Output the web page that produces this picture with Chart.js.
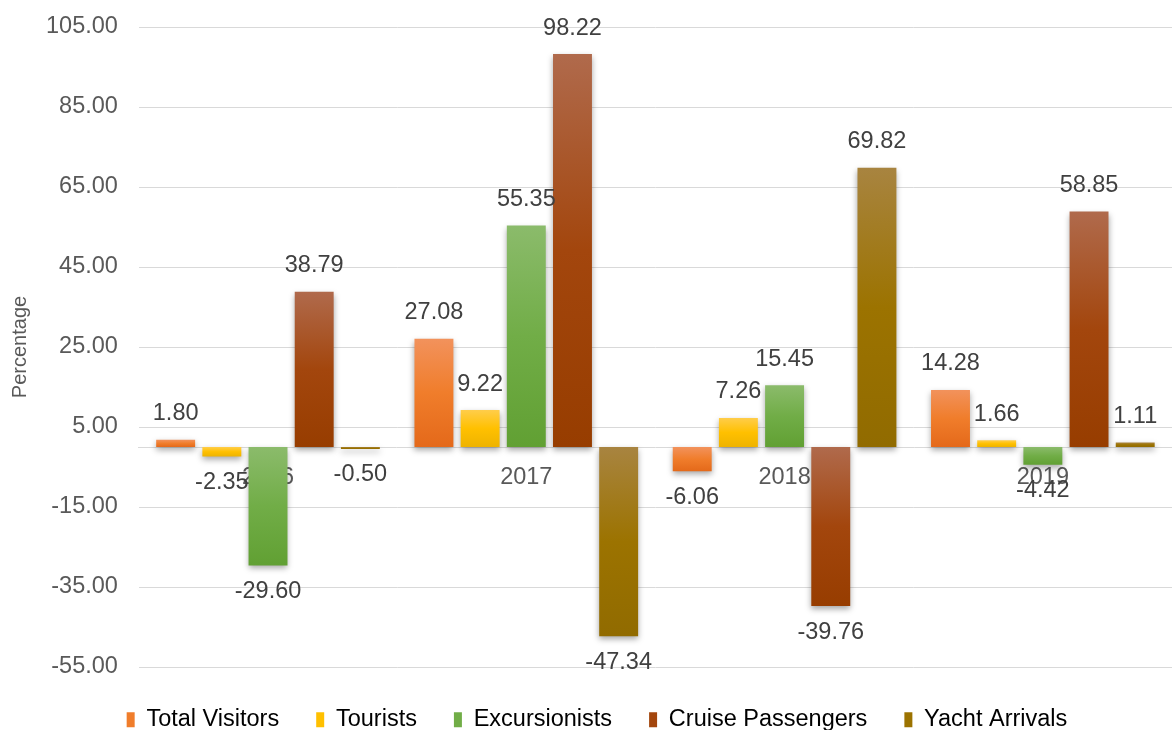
<!DOCTYPE html>
<html>
<head>
<meta charset="utf-8">
<script src="https://cdn.jsdelivr.net/npm/chart.js@4.4.0/dist/chart.umd.min.js"></script>
<style>
  html, body { margin: 0; padding: 0; background: #fff; }
  #wrap { width: 1172px; height: 730px; }
</style>
</head>
<body>
<div id="wrap"><canvas id="myBarChart"></canvas></div>
<script>
const years = ['2016', '2017', '2018', '2019'];
const seriesNames = ['Total Visitors', 'Tourists', 'Excursionists', 'Cruise Passengers', 'Yacht Arrivals'];

const totalVisitors = [1.80, 27.08, -6.06, 14.28];
const tourists = [-2.35, 9.22, 7.26, 1.66];
const excursionists = [-29.60, 55.35, 15.45, -4.42];
const cruisePassengers = [38.79, 98.22, -39.76, 58.85];
const yachtArrivals = [-0.50, -47.34, 69.82, 1.11];

const yTicks = [-55, -35, -15, 5, 25, 45, 65, 85, 105];

// light top, base middle, darker bottom
const barColors = [
  ['#f2925c', '#f07d2b', '#e4691a'],
  ['#ffcd4a', '#ffc000', '#eeb300'],
  ['#8bbb6b', '#71ad47', '#61a033'],
  ['#b06a4c', '#a3460d', '#973d00'],
  ['#a88440', '#9c7300', '#916b00']
];

const fontFamily = '"Liberation Sans", Arial, sans-serif';

function barGradient(context, colors) {
  if (context.type !== 'data') return colors[1];
  const chart = context.chart;
  const yScale = chart.scales.y;
  if (!yScale || !chart.chartArea) return colors[1];
  const v = context.raw;
  const p0 = yScale.getPixelForValue(0);
  const p1 = yScale.getPixelForValue(v);
  const top = Math.min(p0, p1);
  const bottom = Math.max(p0, p1);
  if (bottom - top < 1) return colors[1];
  const g = chart.ctx.createLinearGradient(0, top, 0, bottom);
  g.addColorStop(0, colors[0]);
  g.addColorStop(0.5, colors[1]);
  g.addColorStop(1, colors[2]);
  return g;
}

const allValues = [totalVisitors, tourists, excursionists, cruisePassengers, yachtArrivals];

const datasets = allValues.map((vals, i) => ({
  label: seriesNames[i],
  data: vals,
  backgroundColor: ctx => barGradient(ctx, barColors[i]),
  borderWidth: 0,
  categoryPercentage: 0.894,
  barPercentage: 0.843
}));

// bar shadows, value labels, legend placement
const barExtras = {
  id: 'barExtras',
  beforeInit(chart) {
    const origFit = chart.legend.fit;
    chart.legend.fit = function () {
      origFit.bind(chart.legend)();
      this.height = 63;
    };
  },
  afterLayout(chart) {
    const lg = chart.legend;
    lg.left += 11;
    lg.right += 11;
    lg.top += 4;
    lg.bottom += 4;
  },
  beforeDatasetsDraw(chart) {
    const ctx = chart.ctx;
    ctx.save();
    ctx.shadowColor = 'rgba(0,0,0,0.35)';
    ctx.shadowBlur = 6;
    ctx.shadowOffsetY = 3;
  },
  afterDatasetsDraw(chart) {
    const ctx = chart.ctx;
    ctx.restore();
    ctx.save();
    ctx.font = '23.5px ' + fontFamily;
    ctx.fillStyle = '#404040';
    ctx.textAlign = 'center';
    ctx.textBaseline = 'middle';
    chart.data.datasets.forEach((ds, i) => {
      const meta = chart.getDatasetMeta(i);
      meta.data.forEach((bar, j) => {
        const v = ds.data[j];
        const y = v >= 0 ? bar.y - 26 : bar.y + 26;
        ctx.fillText(v.toFixed(2), bar.x, y);
      });
    });
    ctx.restore();
  }
};

const ctx1 = document.getElementById('myBarChart').getContext('2d');
const myBarChart = new Chart(ctx1, {
  type: 'bar',
  data: {
    labels: years,
    datasets: datasets
  },
  options: {
    responsive: true,
    maintainAspectRatio: false,
    animation: false,
    layout: {
      padding: { top: 27, right: 0, bottom: 0, left: 0 }
    },
    plugins: {
      legend: {
        display: true,
        position: 'bottom',
        labels: {
          boxWidth: 8,
          boxHeight: 15,
          padding: 37,
          color: '#595959',
          font: { size: 23.5, family: fontFamily },
          generateLabels(chart) {
            return seriesNames.map((name, i) => ({
              text: name,
              fillStyle: barColors[i][1],
              strokeStyle: barColors[i][1],
              lineWidth: 0,
              datasetIndex: i,
              hidden: false
            }));
          }
        }
      },
      tooltip: { enabled: false }
    },
    scales: {
      x: {
        position: { y: 0 },
        z: 1,
        grid: { display: false, drawTicks: false },
        border: { display: true, color: '#d9d9d9', width: 1 },
        ticks: {
          color: '#595959',
          padding: 16,
          font: { size: 23.5, family: fontFamily }
        }
      },
      y: {
        min: -55,
        max: 105,
        afterBuildTicks(scale) {
          scale.ticks = yTicks.map(v => ({ value: v }));
        },
        afterFit(scale) {
          scale.paddingTop = 0;
          scale.paddingBottom = 0;
        },
        grid: { color: '#d9d9d9', lineWidth: 1, drawTicks: false },
        border: { display: false },
        ticks: {
          color: '#595959',
          padding: 21,
          font: { size: 23.5, family: fontFamily },
          callback: value => Number(value).toFixed(2)
        },
        title: {
          display: true,
          text: 'Percentage',
          color: '#595959',
          padding: { top: 8, bottom: -7 },
          font: { size: 20, family: fontFamily }
        }
      }
    }
  },
  plugins: [barExtras]
});
</script>
</body>
</html>
